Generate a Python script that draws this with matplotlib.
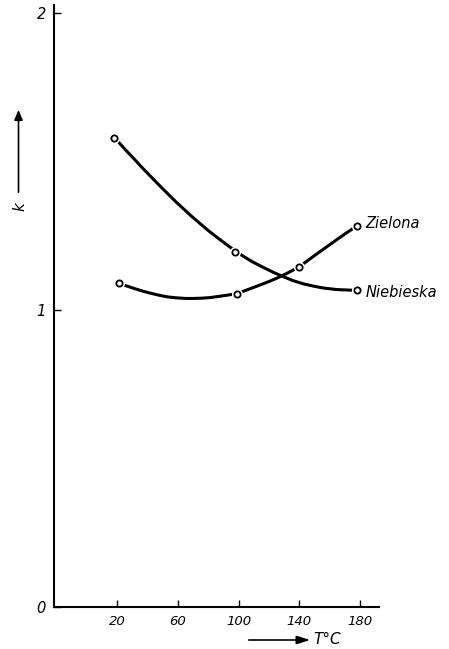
import numpy as np
import matplotlib
matplotlib.use('Agg')
import matplotlib.pyplot as plt

# measured points (markers)
t_nieb = [18, 98, 178]
k_nieb = [1.58, 1.194, 1.067]
t_ziel = [21, 99, 140, 178]
k_ziel = [1.09, 1.054, 1.146, 1.284]

# traced curves
tc_nieb = [18.5, 25, 30.6, 36, 41.7, 47, 52.7, 58, 63.7, 69, 74.7, 80, 85.8, 92, 97.9, 102.3, 109, 116.6, 123, 129.8, 136, 143, 150, 156.2, 165, 173.9, 178.3]
kc_nieb = [1.579, 1.542, 1.512, 1.482, 1.452, 1.424, 1.395, 1.368, 1.341, 1.316, 1.291, 1.268, 1.245, 1.221, 1.199, 1.184, 1.163, 1.143, 1.127, 1.112, 1.099, 1.088, 1.080, 1.074, 1.069, 1.067, 1.067]
tc_ziel = [20.7, 26.2, 31.5, 37.2, 42.5, 48.3, 53.5, 59.3, 65, 70.3, 76, 81.3, 87, 92.4, 98.5, 103, 107.8, 114, 121, 126, 130.9, 135.5, 140.2, 146, 151.9, 158.5, 165.1, 171.5, 178.3]
kc_ziel = [1.09, 1.081, 1.072, 1.063, 1.056, 1.049, 1.044, 1.041, 1.039, 1.039, 1.040, 1.042, 1.046, 1.050, 1.055, 1.063, 1.072, 1.084, 1.098, 1.109, 1.121, 1.133, 1.146, 1.168, 1.190, 1.214, 1.238, 1.261, 1.284]

xticks = [20, 60, 100, 140, 180]
yticks = [0, 1, 2]

plt.rcParams['font.family'] = 'DejaVu Sans'
fig = plt.figure(figsize=(4.49, 6.49), dpi=100)
ax = fig.add_axes([0.121, 0.0652, 0.724, 0.927])

ax.plot(tc_nieb, kc_nieb, color='black', lw=2.2, solid_capstyle='round')
ax.plot(tc_ziel, kc_ziel, color='black', lw=2.2, solid_capstyle='round')
# white ring leaves a small gap between the line and each circle
for tt, kk in [(t_nieb, k_nieb), (t_ziel, k_ziel)]:
    ax.plot(tt, kk, 'o', ms=8, mfc='white', mec='none')
    ax.plot(tt, kk, 'o', ms=4.5, mfc='white', mec='black', mew=1.3)

ax.text(184, 1.29, 'Zielona', fontsize=10.5, style='italic', va='center')
ax.text(184, 1.06, 'Niebieska', fontsize=10.5, style='italic', va='center')

ax.set_xlim(-21.6, 193)
ax.set_ylim(0, 2.028)
ax.set_xticks(xticks)
ax.set_yticks(yticks)
ax.set_xticklabels([str(v) for v in xticks], fontsize=9.5, style='italic')
ax.set_yticklabels([str(v) for v in yticks], fontsize=10.5, style='italic')
ax.tick_params(axis='x', direction='in', length=5, width=1, pad=6)
ax.tick_params(axis='y', direction='in', length=5, width=1, pad=6)
for s in ['top', 'right']:
    ax.spines[s].set_visible(False)
for s in ['left', 'bottom']:
    ax.spines[s].set_linewidth(1.5)

# axis labels with arrows (figure pixel coords)
W, H = 449, 649
fig.text(20 / W, 1 - 207 / H, 'k', fontsize=11, style='italic', rotation=90, ha='center', va='center')
fig.add_artist(matplotlib.patches.FancyArrowPatch((18.5 / W, 1 - 195 / H), (18.5 / W, 1 - 107 / H),
               transform=fig.transFigure, arrowstyle='-|>,head_length=6,head_width=2.5', color='black', lw=1.2))
fig.add_artist(matplotlib.patches.FancyArrowPatch((246 / W, 1 - 640 / H), (313 / W, 1 - 640 / H),
               transform=fig.transFigure, arrowstyle='-|>,head_length=8,head_width=2.5', color='black', lw=1.2))
fig.text(313 / W, 1 - 639 / H, 'T°C', fontsize=11, style='italic', ha='left', va='center')

fig.savefig('out.png', dpi=100)
